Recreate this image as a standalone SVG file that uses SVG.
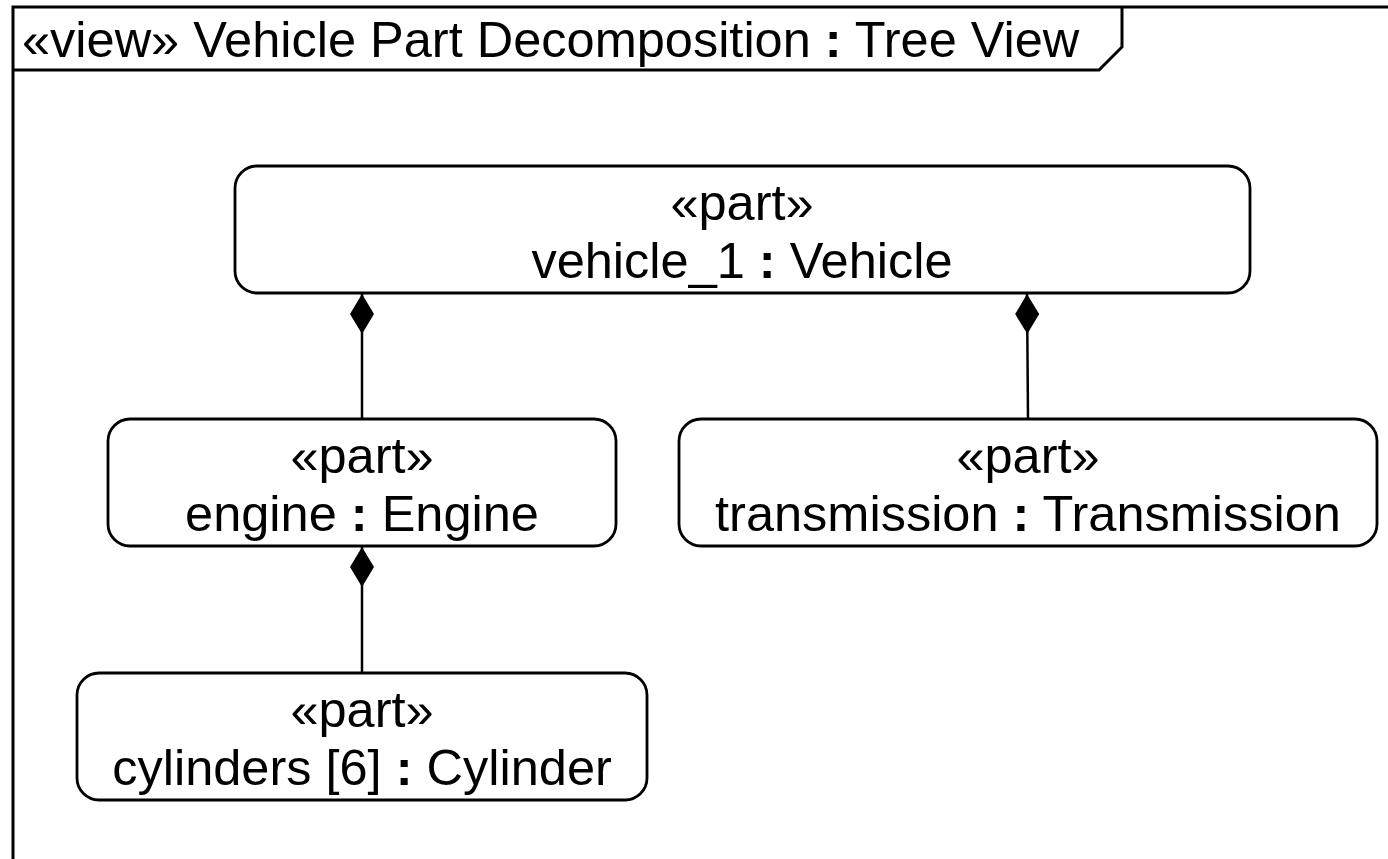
<svg xmlns="http://www.w3.org/2000/svg" width="1388" height="859" viewBox="0 0 1388 859">
  <style>
    .frame { fill: none; stroke: #000; stroke-width: 3; }
    .node { fill: #fff; stroke: #000; stroke-width: 2.8; }
    .edge { fill: none; stroke: #000; stroke-width: 2.5; }
    .label { font-family: "Liberation Sans", Arial, sans-serif; font-size: 50.5px; fill: #000; text-anchor: middle; }
    .title { font-family: "Liberation Sans", Arial, sans-serif; font-size: 50.5px; fill: #000; }
    .sep { font-weight: bold; }
  </style>
  <defs>
    <marker id="composite" viewBox="0 0 40 24" refX="0" refY="12" markerWidth="40" markerHeight="24" markerUnits="userSpaceOnUse" orient="auto">
      <path d="M0,12 L20,0 L40,12 L20,24 Z" fill="#000"/>
    </marker>
  </defs>
  <rect width="1388" height="859" fill="#fff"/>

  <!-- view frame with name tab -->
  <g id="frame">
    <path class="frame" d="M13,900 L13,7 L1400,7"/>
    <path class="frame" d="M13,70 L1099,70 L1122,47 L1122,7"/>
    <text class="title" x="22" y="57">«view» Vehicle Part Decomposition <tspan class="sep">:</tspan> Tree View</text>
  </g>

  <!-- composition connectors (diamond at the owner end) -->
  <g id="connectors">
    <path class="edge" d="M362,294 L362,419" marker-start="url(#composite)"/>
    <path class="edge" d="M1027,294 L1028,419" marker-start="url(#composite)"/>
    <path class="edge" d="M362,547 L362,673" marker-start="url(#composite)"/>
  </g>

  <g id="vehicle_1">
    <rect class="node" x="235" y="166" width="1015" height="127" rx="22"/>
    <text class="label" x="742" y="220">«part»</text>
    <text class="label" x="742" y="278">vehicle_1 <tspan class="sep">:</tspan> Vehicle</text>
  </g>

  <g id="engine">
    <rect class="node" x="108" y="419" width="508" height="127" rx="22"/>
    <text class="label" x="362" y="473">«part»</text>
    <text class="label" x="362" y="531">engine <tspan class="sep">:</tspan> Engine</text>
  </g>

  <g id="transmission">
    <rect class="node" x="679" y="419" width="698" height="127" rx="22"/>
    <text class="label" x="1028" y="473">«part»</text>
    <text class="label" x="1028" y="531">transmission <tspan class="sep">:</tspan> Transmission</text>
  </g>

  <g id="cylinders">
    <rect class="node" x="77" y="673" width="570" height="127" rx="22"/>
    <text class="label" x="362" y="727">«part»</text>
    <text class="label" x="362" y="785">cylinders [6] <tspan class="sep">:</tspan> Cylinder</text>
  </g>
</svg>
